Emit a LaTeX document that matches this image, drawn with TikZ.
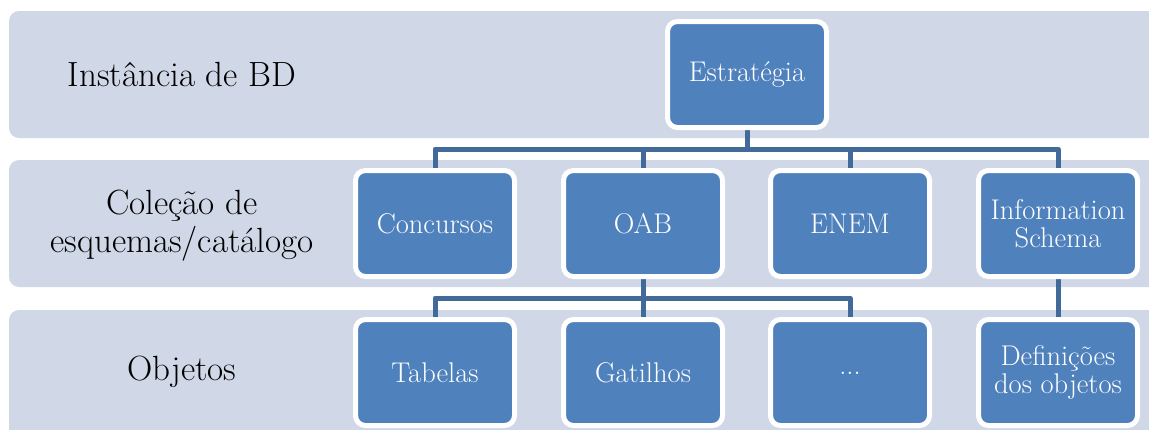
\documentclass[tikz,border=0pt]{standalone}
\usetikzlibrary{positioning}
\definecolor{bandc}{HTML}{D0D8E8}
\definecolor{boxc}{HTML}{4F81BD}
\definecolor{linec}{HTML}{41699A}
\pgfdeclarelayer{bands}
\pgfdeclarelayer{conns}
\pgfsetlayers{bands,conns,main}
\begin{document}
\begin{tikzpicture}[x=1pt,y=-1pt,
  band/.style={fill=bandc, rounded corners=10pt},
  lbl/.style={align=center, font=\fontsize{35}{38}\selectfont, text=black},
  boxn/.style={fill=boxc, draw=white, line width=5pt, rounded corners=10pt,
    minimum width=159pt, minimum height=106pt, inner sep=0pt, align=center,
    text=white, font=\fontsize{28.5}{28}\selectfont},
  conn/.style={draw=linec, line width=5pt, line join=round}]
\useasboundingbox (0,0) rectangle (1149,429);
\begin{pgfonlayer}{bands}
\clip (0,0) rectangle (1149,429);
\fill[band] (9,11) rectangle (1170,138);
\fill[band] (9,160) rectangle (1170,287);
\fill[band] (9,310) rectangle (1170,445);
\end{pgfonlayer}
\node[lbl] (l1) at (182,74) {Instância de BD};
\node[lbl] (l2) at (182,226) {Coleção de\\esquemas/catálogo};
\node[lbl] (l3) at (182,372) {Objetos};
\node[boxn] (est) at (747,74.5) {Estratégia};
\node[boxn] (conc) at (435,223.5) {Concursos};
\node[boxn] (oab) at (643,223.5) {OAB};
\node[boxn] (enem) at (850,223.5) {ENEM};
\node[boxn] (info) at (1058,223.5) {Information\\Schema};
\node[boxn] (tab) at (435,372.5) {Tabelas};
\node[boxn] (gat) at (643,372.5) {Gatilhos};
\node[boxn] (dots) at (850,372.5) {\raisebox{-4pt}{...}};
\node[boxn] (def) at (1058,372.5) {Definições\\dos objetos};
\coordinate (h1) at (747,149);
\coordinate (h2) at (643,298);
\begin{pgfonlayer}{conns}
\draw[conn] (est.south) -- (h1) -| (conc.north);
\draw[conn] (h1) -| (oab.north);
\draw[conn] (h1) -| (enem.north);
\draw[conn] (h1) -| (info.north);
\draw[conn] (oab.south) -- (h2) -| (tab.north);
\draw[conn] (h2) -- (gat.north);
\draw[conn] (h2) -| (dots.north);
\draw[conn] (info.south) -- (def.north);
\end{pgfonlayer}
\end{tikzpicture}
\end{document}
